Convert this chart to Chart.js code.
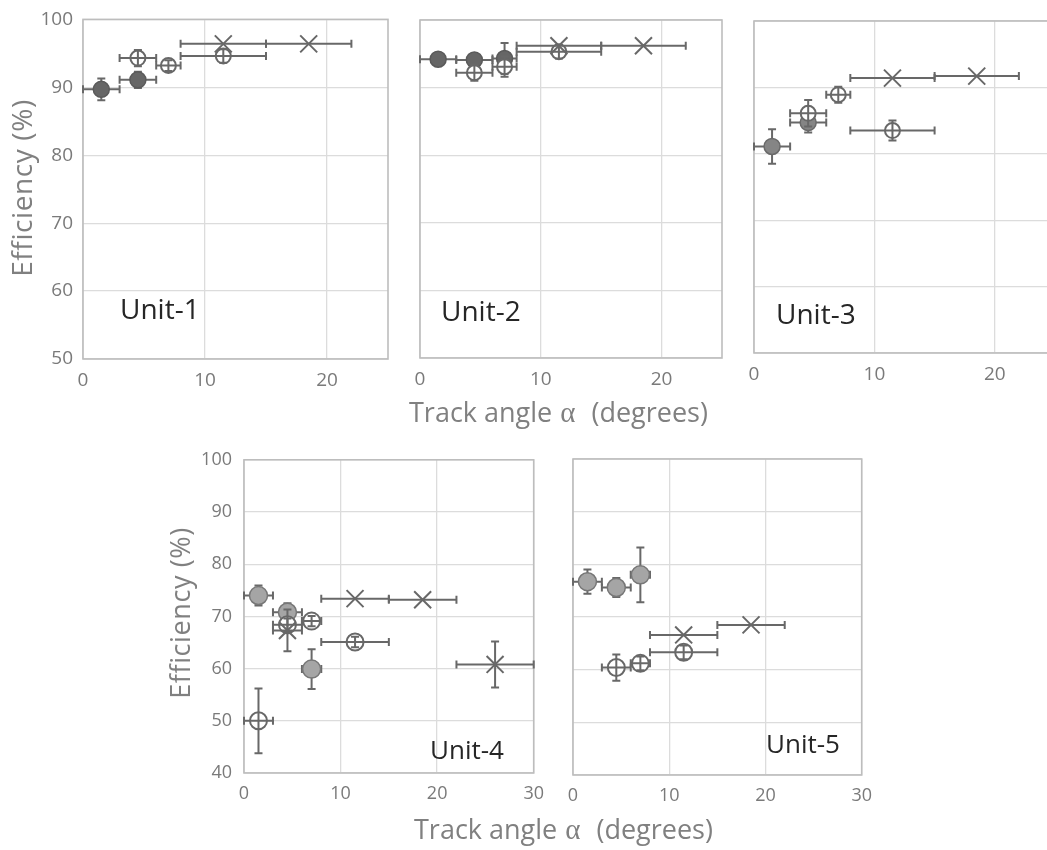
<!DOCTYPE html>
<html>
<head>
<meta charset="utf-8">
<script src="https://cdn.jsdelivr.net/npm/chart.js@4.4.1/dist/chart.umd.min.js"></script>
<style>
  body { margin: 0; width: 1047px; height: 850px; overflow: hidden; position: relative; background: #fff; font-family: 'Open Sans', sans-serif; }
  .panel { position: absolute; }
  .ylab { position: absolute; width: 240px; text-align: center; font-size: 28px; line-height: 28px; color: #808080; transform: rotate(-90deg); white-space: nowrap; letter-spacing: 0.6px; }
  .xlab { position: absolute; font-size: 27px; line-height: 27px; color: #808080; white-space: nowrap; }
  .xlab span { display: inline-block; }
  .alpha { font-family: 'Liberation Serif', 'DejaVu Serif', serif; font-size: 29px; margin-left: 8px; }
  .deg { margin-left: 16px; }
  .unit { position: absolute; color: #262626; white-space: nowrap; }
</style>
</head>
<body>
<div class="panel" id="p1"><canvas id="c1"></canvas></div>
<div class="panel" id="p2"><canvas id="c2"></canvas></div>
<div class="panel" id="p3"><canvas id="c3"></canvas></div>
<div class="panel" id="p4"><canvas id="c4"></canvas></div>
<div class="panel" id="p5"><canvas id="c5"></canvas></div>

<div class="ylab" style="left:-99px; top:174px;">Efficiency (%)</div>
<div class="ylab" style="left:60px; top:599px; font-size:27px;">Efficiency (%)</div>
<div class="xlab" style="left:409px; top:398px;"><span>Track angle</span><span class="alpha">α</span><span class="deg">(degrees)</span></div>
<div class="xlab" style="left:414px; top:815px;"><span>Track angle</span><span class="alpha">α</span><span class="deg">(degrees)</span></div>

<div class="unit" style="left:120px; top:289px; font-size:28px;">Unit-1</div>
<div class="unit" style="left:441px; top:291px; font-size:28px;">Unit-2</div>
<div class="unit" style="left:776px; top:294px; font-size:28px;">Unit-3</div>
<div class="unit" style="left:430px; top:731px; font-size:26px;">Unit-4</div>
<div class="unit" style="left:766px; top:725px; font-size:26px;">Unit-5</div>

<script>
// 角度の区分（中心と範囲）
const binCenters = [1.5, 4.5, 7, 11.5, 18.5, 26];
const binLow = [0, 3, 6, 8, 15, 22];
const binHigh = [3, 6, 8, 15, 22, 30];

// Unit-1
const u1Filled = [89.7, 91.1, null, null, null, null];
const u1FilledErr = [1.6, 1.2, 0, 0, 0, 0];
const u1Open = [null, 94.3, 93.2, 94.6, null, null];
const u1OpenErr = [0, 1.2, 0.8, 1.0, 0, 0];
const u1Cross = [null, null, null, 96.4, 96.4, null];
const u1CrossErr = [0, 0, 0, 0, 0, 0];

// Unit-2
const u2Filled = [94.2, 94.1, 94.3, null, null, null];
const u2FilledErr = [0.8, 0.8, 2.3, 0, 0, 0];
const u2Open = [null, 92.2, 93.1, 95.3, null, null];
const u2OpenErr = [0, 1.2, 1.5, 1.0, 0, 0];
const u2Cross = [null, null, null, 96.2, 96.2, null];
const u2CrossErr = [0, 0, 0, 0, 0, 0];

// Unit-3
const u3Filled = [81.1, 84.7, null, null, null, null];
const u3FilledErr = [2.6, 1.5, 0, 0, 0, 0];
const u3Open = [null, 86.1, 88.9, 83.5, null, null];
const u3OpenErr = [0, 2.0, 1.2, 1.5, 0, 0];
const u3Cross = [null, null, null, 91.4, 91.7, null];
const u3CrossErr = [0, 0, 0, 0, 0, 0];

// Unit-4
const u4Filled = [74.0, 70.8, 59.9, null, null, null];
const u4FilledErr = [1.9, 1.7, 3.8, 0, 0, 0];
const u4Open = [50.0, 68.4, 69.1, 65.1, null, null];
const u4OpenErr = [6.2, 1.2, 1.0, 1.0, 0, 0];
const u4Cross = [null, 67.3, null, 73.4, 73.2, 60.8];
const u4CrossErr = [0, 4.0, 0, 0, 0, 4.4];

// Unit-5
const u5Filled = [76.7, 75.6, 78.0, null, null, null];
const u5FilledErr = [2.3, 1.8, 5.2, 0, 0, 0];
const u5Open = [null, 60.4, 61.2, 63.3, null, null];
const u5OpenErr = [0, 2.5, 1.3, 1.3, 0, 0];
const u5Cross = [null, null, null, 66.6, 68.5, null];
const u5CrossErr = [0, 0, 0, 0, 0, 0];

const topYTicks = [50, 60, 70, 80, 90, 100];
const bottomYTicks = [40, 50, 60, 70, 80, 90, 100];

// 点データを作る
function points(values, errs) {
  let out = [];
  values.forEach((v, i) => {
    if (v === null) return;
    out.push({
      x: binCenters[i], y: v,
      xMin: binLow[i], xMax: binHigh[i],
      yMin: v - errs[i], yMax: v + errs[i]
    });
  });
  return out;
}

// 誤差棒
function drawBars(chart, ds) {
  let ctx = chart.ctx;
  let xs = chart.scales.x, ys = chart.scales.y;
  let cap = 4;
  ctx.save();
  ctx.strokeStyle = '#686868';
  ctx.lineWidth = 2;
  ds.data.forEach(p => {
    let px = xs.getPixelForValue(p.x);
    let py = ys.getPixelForValue(p.y);
    let x0 = xs.getPixelForValue(p.xMin);
    let x1 = xs.getPixelForValue(p.xMax);
    ctx.beginPath();
    ctx.moveTo(x0, py); ctx.lineTo(x1, py);
    ctx.moveTo(x0, py - cap); ctx.lineTo(x0, py + cap);
    ctx.moveTo(x1, py - cap); ctx.lineTo(x1, py + cap);
    if (p.yMax > p.yMin) {
      let y0 = ys.getPixelForValue(p.yMin);
      let y1 = ys.getPixelForValue(p.yMax);
      ctx.moveTo(px, y0); ctx.lineTo(px, y1);
      ctx.moveTo(px - cap, y0); ctx.lineTo(px + cap, y0);
      ctx.moveTo(px - cap, y1); ctx.lineTo(px + cap, y1);
    }
    ctx.stroke();
  });
  ctx.restore();
}

const errorBars = {
  id: 'errorBars',
  beforeDatasetDraw(chart, args) {
    let ds = chart.data.datasets[args.index];
    if (!ds.barsOnTop) drawBars(chart, ds);
  },
  afterDatasetDraw(chart, args) {
    let ds = chart.data.datasets[args.index];
    if (ds.barsOnTop) drawBars(chart, ds);
  }
};

// 枠線
const frameBox = {
  id: 'frameBox',
  beforeDatasetsDraw(chart) {
    let a = chart.chartArea;
    let ctx = chart.ctx;
    ctx.save();
    ctx.strokeStyle = '#bdbdbd';
    ctx.lineWidth = 1.6;
    ctx.strokeRect(a.left, a.top, a.right - a.left, a.bottom - a.top);
    ctx.restore();
  }
};

Chart.defaults.font.family = "'Open Sans', sans-serif";

// パネルの配置（プロット領域の座標）
const panels = [
  { id: 1, area: [83, 18, 388, 359], yLabels: true, yTicks: topYTicks, xMax: 25, fill: '#666666', edge: '#5a5a5a',
    filled: [u1Filled, u1FilledErr], open: [u1Open, u1OpenErr], cross: [u1Cross, u1CrossErr], r: 7.5, fs: 19 },
  { id: 2, area: [420, 20, 722, 358], yLabels: false, yTicks: topYTicks, xMax: 25, fill: '#666666', edge: '#5a5a5a',
    filled: [u2Filled, u2FilledErr], open: [u2Open, u2OpenErr], cross: [u2Cross, u2CrossErr], r: 7.5, fs: 19 },
  { id: 3, area: [754, 21, 1055, 353], yLabels: false, yTicks: topYTicks, xMax: 25, fill: '#858585', edge: '#6a6a6a',
    filled: [u3Filled, u3FilledErr], open: [u3Open, u3OpenErr], cross: [u3Cross, u3CrossErr], r: 7.5, fs: 19 },
  { id: 4, area: [244, 457, 534, 773], yLabels: true, yTicks: bottomYTicks, xMax: 30, fill: '#a5a5a5', edge: '#777777',
    filled: [u4Filled, u4FilledErr], open: [u4Open, u4OpenErr], cross: [u4Cross, u4CrossErr], r: 8.5, fs: 18 },
  { id: 5, area: [573, 459, 862, 775], yLabels: false, yTicks: bottomYTicks, xMax: 30, fill: '#a5a5a5', edge: '#777777',
    filled: [u5Filled, u5FilledErr], open: [u5Open, u5OpenErr], cross: [u5Cross, u5CrossErr], r: 8.5, fs: 18 }
];

panels.forEach(p => {
  let yw = p.yLabels ? 60 : 20;
  let padT = 20, padR = 20, xh = 40;
  let [L, T, R, B] = p.area;
  let left = L - yw, top = T - padT;
  let w = R + padR - left, h = B + xh - top;
  let box = document.getElementById('p' + p.id);
  box.style.left = left + 'px';
  box.style.top = top + 'px';
  let canvas = document.getElementById('c' + p.id);
  canvas.width = w;
  canvas.height = h;

  let yMin = p.yTicks[0], yMax = p.yTicks[p.yTicks.length - 1];

  new Chart(canvas.getContext('2d'), {
    type: 'scatter',
    data: {
      datasets: [
        { label: 'cross', data: points(p.cross[0], p.cross[1]), pointStyle: 'crossRot', pointRadius: 12,
          pointBorderColor: '#686868', pointBackgroundColor: 'transparent', pointBorderWidth: 2, barsOnTop: true },
        { label: 'open', data: points(p.open[0], p.open[1]), pointStyle: 'circle', pointRadius: p.r,
          pointBorderColor: '#686868', pointBackgroundColor: '#ffffff', pointBorderWidth: 2, barsOnTop: true },
        { label: 'filled', data: points(p.filled[0], p.filled[1]), pointStyle: 'circle', pointRadius: p.r + 0.5,
          pointBorderColor: p.edge, pointBackgroundColor: p.fill, pointBorderWidth: 1.5, barsOnTop: false }
      ]
    },
    options: {
      responsive: false,
      animation: false,
      layout: { padding: { top: padT, right: padR, left: 0, bottom: 0 } },
      plugins: { legend: { display: false }, tooltip: { enabled: false } },
      scales: {
        x: {
          type: 'linear', min: 0, max: p.xMax,
          ticks: { stepSize: 10, includeBounds: false, padding: 10, color: '#7a7a7a', font: { size: p.fs } },
          grid: { color: '#dcdcdc', lineWidth: 1.3, drawTicks: false },
          border: { display: false },
          afterFit(s) { s.height = xh; }
        },
        y: {
          type: 'linear', min: yMin, max: yMax,
          ticks: { display: p.yLabels, stepSize: 10, padding: p.id === 4 ? 12 : 10, color: '#7a7a7a', font: { size: p.fs } },
          grid: { color: '#dcdcdc', lineWidth: 1.3, drawTicks: false },
          border: { display: false },
          afterFit(s) { s.width = yw; }
        }
      }
    },
    plugins: [frameBox, errorBars]
  });
});
</script>
</body>
</html>
